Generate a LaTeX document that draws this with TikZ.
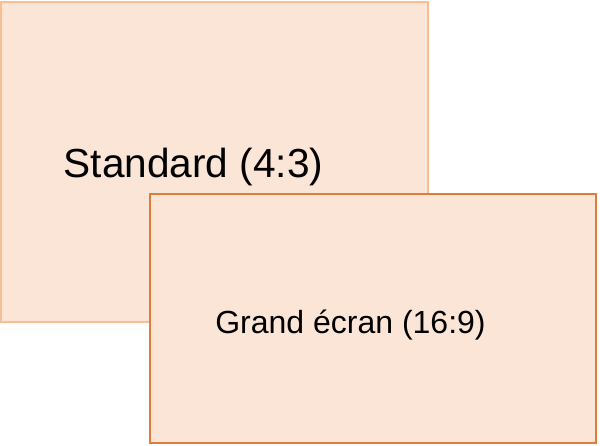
\documentclass[tikz,border=0pt]{standalone}
\usepackage{fontspec}
\setmainfont{Liberation Sans}
\definecolor{slidefill}{HTML}{FBE5D6}
\definecolor{lightedge}{HTML}{F8BF94}
\definecolor{darkedge}{HTML}{E07C3A}
\begin{document}
\begin{tikzpicture}[x=1pt,y=-1pt,
  slidebox/.style={fill=slidefill,line width=2.2pt},
  label/.style={anchor=base,inner sep=0pt,text=black}]
\useasboundingbox (0,0) rectangle (600,445);
\draw[slidebox,draw=lightedge] (1.2,2) rectangle (428,322);
\node[label,font=\fontsize{40.6}{44}\selectfont] (std) at (193.5,177) {Standard (4:3)};
\draw[slidebox,draw=darkedge,line width=1.8pt] (149.8,193.8) rectangle (595.6,442.6);
\node[label,font=\fontsize{32}{36}\selectfont] (wide) at (350.5,333) {Grand écran (16:9)};
\end{tikzpicture}
\end{document}
